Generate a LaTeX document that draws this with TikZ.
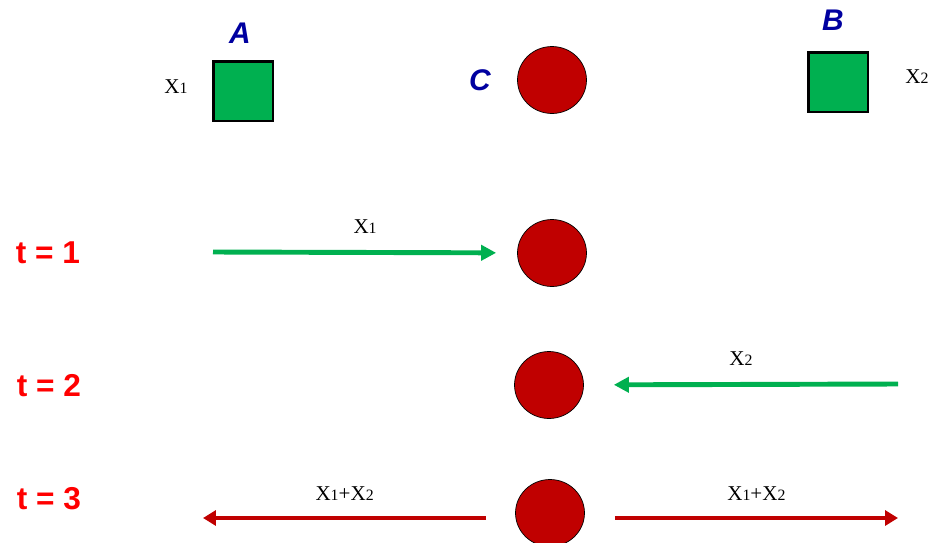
\documentclass[tikz,border=0pt]{standalone}
\usepackage{fontspec}
\setmainfont{Liberation Serif}
\newfontfamily\arialfont{Liberation Sans}
\usetikzlibrary{shapes,arrows.meta,calc}
\definecolor{boxgreen}{RGB}{0,176,80}
\definecolor{ballred}{RGB}{192,0,0}
\definecolor{steptext}{RGB}{255,0,0}
\definecolor{namblue}{RGB}{0,0,160}
\tikzstyle{station} = [draw, rectangle, fill=boxgreen, line width=1.7pt, minimum size=1.2cm, inner sep=0pt]
\tikzstyle{relay} = [draw, ellipse, fill=ballred, line width=0.4pt, minimum width=1.38cm, minimum height=1.34cm, inner sep=0pt]
\tikzstyle{nodename} = [text=namblue, font=\arialfont\bfseries\itshape\fontsize{17}{20}\selectfont]
\tikzstyle{steplabel} = [text=steptext, font=\arialfont\bfseries\fontsize{18}{22}\selectfont]
\tikzstyle{pkt} = [text=black, font=\fontsize{12}{14}\selectfont]
\tikzstyle{gline} = [draw, -{Triangle[length=0.3cm, width=0.3cm]}, line width=2.8pt, color=boxgreen]
\tikzstyle{rline} = [draw, -{Triangle[length=0.26cm, width=0.3cm]}, line width=2.8pt, color=ballred]

\begin{document}
\begin{tikzpicture}[x=0.02cm, y=-0.02cm]
        \useasboundingbox (0,0) rectangle (934,542);
        % top row
        \node[station] (A) at (243,91) {};
        \node[station] (B) at (838,82) {};
        \node[relay] (C) at (552,80) {};
        \node[nodename] (nameA) at (240,33) {A};
        \node[nodename] (nameB) at (833,20) {B};
        \node[nodename] (nameC) at (480,80) {C};
        \node[pkt] (xA) at (176,87) {X{\small 1}};
        \node[pkt] (xB) at (917,77) {X{\small 2}};
        % t = 1
        \node[steplabel] (t1) at (48,253) {t = 1};
        \node[relay] (c1) at (552,253) {};
        \coordinate (s1) at (213,252);
        \path[gline, shorten >=0.42cm] (s1) -- (c1) node [pkt, midway, above=6pt] {X{\small 1}};
        % t = 2
        \node[steplabel] (t2) at (49,386) {t = 2};
        \node[relay] (c2) at (549,385) {};
        \coordinate (s2) at (898,384);
        \path[gline, shorten >=0.6cm] (s2) -- (c2) node [pkt, midway, above=6pt] {X{\small 2}};
        % t = 3
        \node[steplabel] (t3) at (49,499) {t = 3};
        \node[relay] (c3) at (550,513) {};
        \coordinate (l3) at (203,518);
        \coordinate (r3) at (898,518);
        \path[rline] ([xshift=-0.58cm]c3.west |- l3) -- node [pkt, above=5pt] {X{\small 1}+X{\small 2}} (l3);
        \path[rline] ([xshift=0.6cm]c3.east |- r3) -- node [pkt, above=5pt] {X{\small 1}+X{\small 2}} (r3);
    \end{tikzpicture}
\end{document}
